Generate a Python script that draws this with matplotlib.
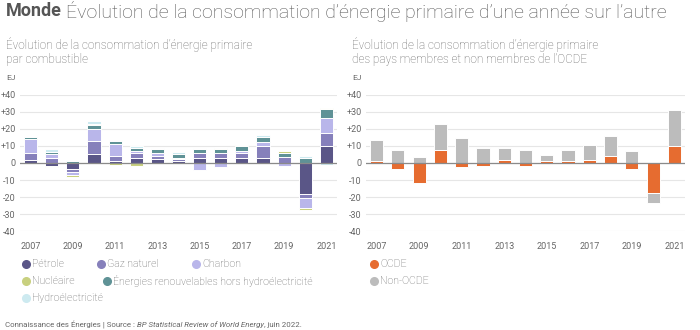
#!/usr/bin/env python3
"""Monde: year-on-year change in primary energy consumption (EJ), by fuel and OCDE / non-OCDE."""

import numpy as np
import matplotlib

matplotlib.use("Agg")
import matplotlib.pyplot as plt
from matplotlib.lines import Line2D

plt.rcParams["font.family"] = ["Roboto", "DejaVu Sans"]

years = list(range(2007, 2022))
year_ticks = [2007, 2009, 2011, 2013, 2015, 2017, 2019, 2021]

# by fuel, EJ
petrole = [2, -2, -3.3, 5, 1, 3, 2.3, 1.4, 3, 3, 3, 3, 0.2, -18, 10]
gaz = [4, 3, -2, 8, 3.3, 3, 2, 1, 3, 3, 3, 7, 3.1, -2.4, 7.3]
charbon = [8.2, 2, -2, 7, 7, 1, 1.5, 0.8, -4, -2.2, 1, 2.3, -2, -5.9, 8.8]
renouv = [0.8, 1.4, 1.2, 2, 1.6, 2, 2.3, 2, 2, 2.3, 3.1, 3, 2.8, 3.1, 5.3]
nucleaire = [-0.8, -0.2, -1, 1, -1, -2, 0.2, 0.2, 0.2, 0.2, 0.2, 0.2, 0.8, -1.2, 1]
hydro = [0.4, 2, 0.2, 1.8, 0.4, 0.8, 0.6, 0.8, 0.4, 0.8, 0.4, 1, 0.2, 1.2, -1]

# OCDE / non-OCDE, EJ
ocde = [1, -3.3, -11.5, 7.8, -2.3, -2, 2, -2, 1, 1, 2, 3.9, -3.3, -17.6, 10]
non_ocde = [12.7, 7.8, 3.7, 15.2, 14.6, 8.8, 6.8, 7.6, 3.7, 6.8, 8.7, 11.9, 6.8, -5.8, 21]

C_PET, C_GAZ, C_CHA = "#5a5687", "#8680bb", "#b9b6ea"
C_NUC, C_REN, C_HYD = "#c8d07f", "#5f9296", "#cdeaf0"
C_OCDE, C_NON = "#e66c30", "#bcbcbc"

W, H = 700, 330
GRAY = "#666666"


def fx(px):
    return px / W


def fy(py):
    return 1 - py / H


def stacked(ax, series):
    x = np.arange(len(years))
    pos = np.zeros(len(years))
    neg = np.zeros(len(years))
    for vals, color in series:
        v = np.asarray(vals, dtype=float)
        bottom = np.where(v >= 0, pos, neg)
        ax.bar(x, v, bottom=bottom, width=0.62, color=color,
               edgecolor="white", linewidth=0.7, zorder=3)
        pos = pos + np.clip(v, 0, None)
        neg = neg + np.clip(v, None, 0)


def style(ax):
    ax.set_xlim(-0.5, len(years) - 0.5)
    ax.set_ylim(-40, 40)
    ticks = list(range(-40, 41, 10))
    ax.set_yticks(ticks)
    ax.set_yticklabels([f"+{t}" if t > 0 else str(t) for t in ticks])
    ax.set_xticks([years.index(y) for y in year_ticks])
    ax.set_xticklabels([str(y) for y in year_ticks])
    ax.tick_params(length=0, labelsize=6.5, labelcolor=GRAY)
    ax.tick_params(axis="y", pad=3)
    ax.tick_params(axis="x", pad=8)
    for s in ax.spines.values():
        s.set_visible(False)
    ax.grid(axis="y", color="#e6e6e6", linewidth=0.8, zorder=0)
    ax.axhline(0, color="#8a8a8a", linewidth=0.9, zorder=4)


fig = plt.figure(figsize=(7, 3.3), dpi=100)

ax1 = fig.add_axes([fx(20), fy(231.3), fx(317), (231.3 - 94.7) / H])
ax2 = fig.add_axes([fx(366), fy(231.3), fx(319), (231.3 - 94.7) / H])

stacked(ax1, [(petrole, C_PET), (gaz, C_GAZ), (charbon, C_CHA),
              (renouv, C_REN), (nucleaire, C_NUC), (hydro, C_HYD)])
stacked(ax2, [(ocde, C_OCDE), (non_ocde, C_NON)])
style(ax1)
style(ax2)

# title: bold "Monde" then the rest in light
t1 = fig.text(fx(6), fy(11), "Monde", fontsize=13, fontweight="bold",
              color="#555555", va="center")
fig.canvas.draw()
bb = t1.get_window_extent()
fig.text((bb.x1 + 4) / W, fy(11), "Évolution de la consommation d’énergie primaire d’une année sur l’autre",
         fontsize=14, fontweight="light", color="#555555", va="center")

sub_kw = dict(fontsize=8.5, fontweight="light", color=GRAY, va="center")
fig.text(fx(6), fy(45), "Évolution de la consommation d’énergie primaire", **sub_kw)
fig.text(fx(6), fy(60), "par combustible", **sub_kw)
fig.text(fx(352), fy(45), "Évolution de la consommation d’énergie primaire", **sub_kw)
fig.text(fx(352), fy(60), "des pays membres et non membres de l’OCDE", **sub_kw)
fig.text(fx(6), fy(78), "EJ", fontsize=6, color=GRAY, va="center")
fig.text(fx(352), fy(78), "EJ", fontsize=6, color=GRAY, va="center")

legend_items = [
    ("Pétrole", C_PET, 26, 264), ("Gaz naturel", C_GAZ, 101, 264), ("Charbon", C_CHA, 196, 264),
    ("Nucléaire", C_NUC, 26, 281), ("Énergies renouvelables hors hydroélectricité", C_REN, 107, 281),
    ("Hydroélectricité", C_HYD, 26, 298),
    ("OCDE", C_OCDE, 374, 264), ("Non-OCDE", C_NON, 374, 281),
]
for label, color, px, py in legend_items:
    fig.add_artist(Line2D([fx(px)], [fy(py)], marker="o", markersize=5.5, color=color,
                          linestyle="none", transform=fig.transFigure))
    fig.text(fx(px + 6), fy(py), label, fontsize=7.6, fontweight="light", color=GRAY, va="center")

foot_kw = dict(fontsize=5.7, color=GRAY, va="center")
f1 = fig.text(fx(5), fy(325), "Connaissance des Énergies | Source : ", **foot_kw)
fig.canvas.draw()
bb = f1.get_window_extent()
f2 = fig.text(bb.x1 / W, fy(325), "BP Statistical Review of World Energy", style="italic", **foot_kw)
fig.canvas.draw()
bb = f2.get_window_extent()
fig.text(bb.x1 / W, fy(325), ", juin 2022.", **foot_kw)

fig.savefig("out.png", dpi=100)
